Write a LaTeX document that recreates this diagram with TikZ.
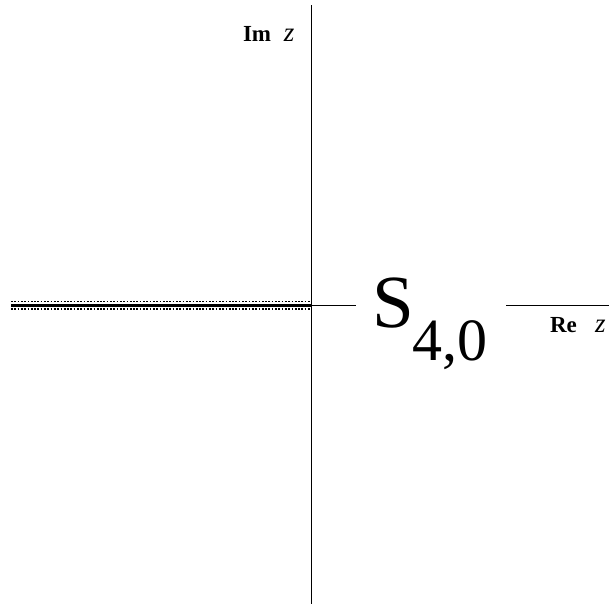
\documentclass[tikz,border=0pt]{standalone}
\usepackage{fontspec}
\setmainfont{Liberation Serif}
\begin{document}
\begin{tikzpicture}[x=1pt,y=-1pt,
  axis/.style={line width=1pt,black},
  cutline/.style={line width=3.4pt,black},
  cutedge/.style={line width=1.1pt,black,dash pattern=on 1.7pt off 1.6pt},
  lbl/.style={inner sep=0pt,outer sep=0pt,anchor=base west},
  axlbl/.style={lbl,font=\fontsize{23}{26}\selectfont}
]
\useasboundingbox (0,0) rectangle (609,606);
% coordinates
\coordinate (top) at (311,5);
\coordinate (bot) at (311,604);
\coordinate (o) at (311,305.3);
\coordinate (left) at (11,305.3);
\coordinate (gapL) at (356,305.3);
\coordinate (gapR) at (506,305.3);
\coordinate (right) at (609,305.3);
\coordinate (leftU) at (11,301.6);
\coordinate (oU) at (311,301.6);
\coordinate (leftD) at (11,309.0);
\coordinate (oD) at (311,309.0);
% axes
\draw[axis] (top) -- (bot);
\draw[axis] (o) -- (gapL);
\draw[axis] (gapR) -- (right);
% branch cut
\draw[cutline] (left) -- (o);
\draw[cutedge] (leftU) -- (oU);
\draw[cutedge] (leftD) -- (oD);
% labels
\node[axlbl] (im) at (243,41) {\textbf{Im}\hspace{0.55em}{\fontsize{27}{30}\selectfont\textit{z}}};
\node[axlbl] (re) at (550,332) {\textbf{Re}\hspace{0.8em}{\fontsize{27}{30}\selectfont\textit{z}}};
\node[lbl,font=\fontsize{75}{80}\selectfont] (S) at (372,327) {S};
\node[lbl,font=\fontsize{60}{64}\selectfont] (sub) at (412,360) {4,0};
\end{tikzpicture}
\end{document}
